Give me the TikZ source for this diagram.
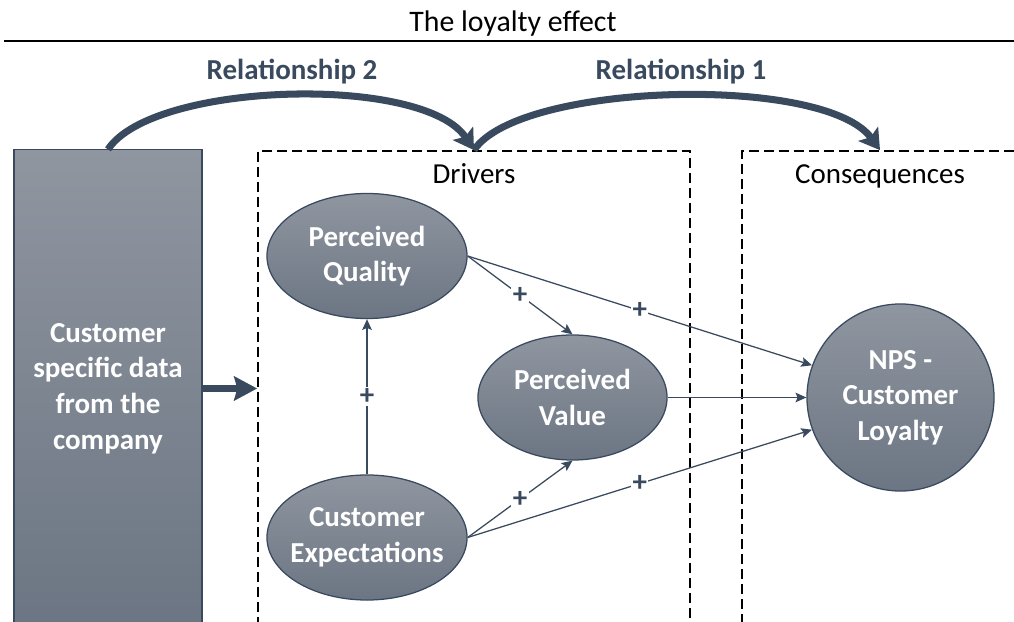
\documentclass[tikz,border=0pt]{standalone}
\usepackage{fontspec}
\setmainfont{Carlito}
\usetikzlibrary{shapes.geometric, arrows.meta, positioning, calc}

\definecolor{slate}{HTML}{3A4A5E}
\definecolor{shadetop}{HTML}{8F96A0}
\definecolor{shadebot}{HTML}{6C7583}

\tikzset{
  databox/.style={rectangle, draw=slate, line width=0.8pt, top color=shadetop, bottom color=shadebot,
    minimum width=4.7cm, minimum height=11.925cm, text=white, font=\bfseries, align=center},
  construct/.style={ellipse, draw=slate, line width=0.9pt, top color=shadetop, bottom color=shadebot, inner sep=0pt},
  inlabel/.style={text=white, font=\bfseries, align=center},
  group/.style={draw=black, line width=1.1pt, dash pattern=on 0.25cm off 0.125cm},
  grouptitle/.style={anchor=base, yshift=-0.83cm},
  reltext/.style={text=slate, font=\bfseries},
  effect/.style={-{Stealth[length=0.27cm, width=0.24cm, inset=0.05cm]}, slate, line width=0.9pt},
  plus/.style={fill=white, text=slate, font=\bfseries, inner sep=1pt},
  rel/.style={-{Stealth[length=0.5cm, width=0.6cm, inset=0.1cm]}, slate, line width=5pt},
  feed/.style={-{Stealth[length=0.575cm, width=0.6cm, inset=0.08cm]}, slate, line width=5.5pt}
}

\begin{document}
\fontsize{20.6}{25.4}\selectfont
\begin{tikzpicture}[x=0.025cm, y=-0.025cm]
  \useasboundingbox (0,0) rectangle (1014,622);
  \clip (0,0) rectangle (1014,622);

  % Title and rule
  \node[font=\fontsize{21.2}{26}\selectfont] (title) at (513,24) {The loyalty effect};
  \draw[line width=1.5pt] (4,41) -- (1014,41);

  % Dashed groups
  \node[group, minimum width=10.8cm, minimum height=12.5cm] (drivers) at (474,401) {};
  \node[group, minimum width=6.9cm, minimum height=12.5cm] (conseq) at (880,401) {};
  \node[grouptitle] (drvlabel) at (drivers.north) {Drivers};
  \node[grouptitle] (conlabel) at (conseq.north) {Consequences};

  % Data source
  \node[databox] (data) at (108,388.5) {Customer\\specific data\\from the\\company};

  % Constructs
  \node[construct, minimum width=5cm, minimum height=3.125cm,
    label={[inlabel, name=pqtext]center:Perceived\\Quality}] (pq) at (367,256) {};
  \node[construct, minimum width=4.725cm, minimum height=3.125cm,
    label={[inlabel, name=pvtext]center:Perceived\\Value}] (pv) at (572.5,397.5) {};
  \node[construct, minimum width=5cm, minimum height=3.125cm,
    label={[inlabel, name=cetext]center:Customer\\Expectations}] (ce) at (367,537.5) {};
  \node[construct, circle, minimum size=4.675cm,
    label={[inlabel, name=npstext]center:NPS -\\Customer\\Loyalty}] (nps) at (900.5,397.5) {};

  % Relationships
  \node[reltext] (rel2) at (292,72) {Relationship 2};
  \node[reltext] (rel1) at (681,72) {Relationship 1};
  \draw[rel] (data.north) .. controls +(45,-68) and +(-50,-76) .. (drivers.north);
  \draw[rel] (drivers.north) .. controls +(45,-68) and +(-55,-76) .. (conseq.north);
  \draw[feed] (data.east) -- (data.east -| drivers.west);

  % Effects
  \draw[effect] (ce.north) -- node[plus] {+} (pq.south);
  \draw[effect] (pq.east) -- node[plus] {+} (pv.north);
  \draw[effect] (pq.east) -- node[plus] {+} (nps.160);
  \draw[effect] (pv.east) -- (nps.west);
  \draw[effect] (ce.east) -- node[plus] {+} (pv.south);
  \draw[effect] (ce.east) -- node[plus] {+} (nps.200);
\end{tikzpicture}
\end{document}
